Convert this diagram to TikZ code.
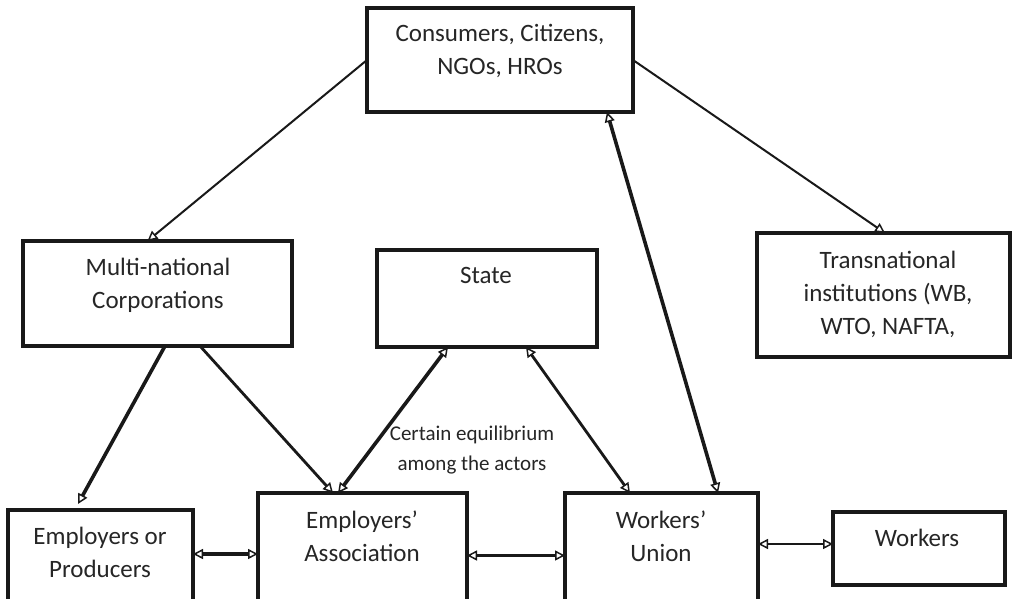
\documentclass[tikz,border=0pt]{standalone}
\usepackage{fontspec}
\setmainfont{Carlito}
\usetikzlibrary{arrows.meta,calc}
\begin{document}
\begin{tikzpicture}[x=1pt,y=-1pt,
  box/.style={draw=black!90,line width=3.5pt,inner sep=0pt,outer sep=0pt,anchor=north west},
  lbl/.style={anchor=base,align=center,inner sep=0pt,text=black!85,font=\fontsize{25}{33}\selectfont},
  note/.style={anchor=base,align=center,inner sep=0pt,text=black!85,font=\fontsize{21}{30}\selectfont},
  thinline/.style={line width=2pt,draw=black!90},
  midline/.style={line width=2.8pt,draw=black!90},
  thickline/.style={line width=3.6pt,draw=black!90},
  >={Triangle[open,length=10pt,width=10pt,line width=1.5pt]}
]
\useasboundingbox (0,0) rectangle (1012,598);
\fill[white] (0,0) rectangle (1012,598);
\begin{scope}
\clip (0,0) rectangle (1012,598);
% boxes
\node[box,minimum width=266pt,minimum height=104pt] (top) at (367,8) {};
\node[box,minimum width=269pt,minimum height=105pt] (mnc) at (23,241) {};
\node[box,minimum width=220pt,minimum height=97pt] (state) at (377,250) {};
\node[box,minimum width=253pt,minimum height=124pt] (trans) at (757,233) {};
\node[box,minimum width=185pt,minimum height=93pt] (ep) at (8,510) {};
\node[box,minimum width=209pt,minimum height=110pt] (ea) at (258,493) {};
\node[box,minimum width=193pt,minimum height=110pt] (wu) at (565,493) {};
\node[box,minimum width=172pt,minimum height=73pt] (wk) at (833,512) {};
% texts (anchored at the baseline of the last line)
\node[lbl] (ttop) at (500,74) {Consumers, Citizens,\\NGOs, HROs};
\node[lbl] (tmnc) at (158,308) {Multi-national\\Corporations};
\node[lbl] (tstate) at (486,283) {State};
\node[lbl] (ttrans) at (888,334) {Transnational\\institutions (WB,\\WTO, NAFTA,};
\node[lbl] (tep) at (100,577) {Employers or\\Producers};
\node[lbl] (tea) at (362,561) {Employers’\\Association};
\node[lbl] (twu) at (661,561) {Workers’\\Union};
\node[lbl] (twk) at (917,546) {Workers};
\node[note] (eq) at (472,470) {Certain equilibrium\\among the actors};
% connectors
\draw[thinline,->] (top.west) -- ([xshift=-10pt]mnc.north);
\draw[thinline,->] (top.east) -- ([xshift=1.5pt]trans.north);
\draw[thickline,<->] ([xshift=107pt]top.south) -- ([xshift=56.5pt]wu.north);
\draw[thickline,->] ([xshift=7.5pt]mnc.south) -- ([xshift=-22.5pt,yshift=6pt]ep.north);
\draw[midline,->] ([xshift=42.5pt]mnc.south) -- ([xshift=-29.5pt]ea.north);
\draw[thickline,<->] ([xshift=-39pt]state.south) -- ([xshift=-24.5pt]ea.north);
\draw[midline,<->] ([xshift=39pt]state.south) -- ([xshift=-31.5pt]wu.north);
\draw[thickline,<->] ([yshift=2.5pt]ep.east) -- ([yshift=2.5pt]ep.east -| ea.west);
\draw[thickline,<->] ([yshift=-7.5pt]ea.east) -- ([yshift=-7.5pt]ea.east -| wu.west);
\draw[thinline,<->] ([yshift=4.5pt]wk.west -| wu.east) -- ([yshift=4.5pt]wk.west);
\end{scope}
\end{tikzpicture}
\end{document}
